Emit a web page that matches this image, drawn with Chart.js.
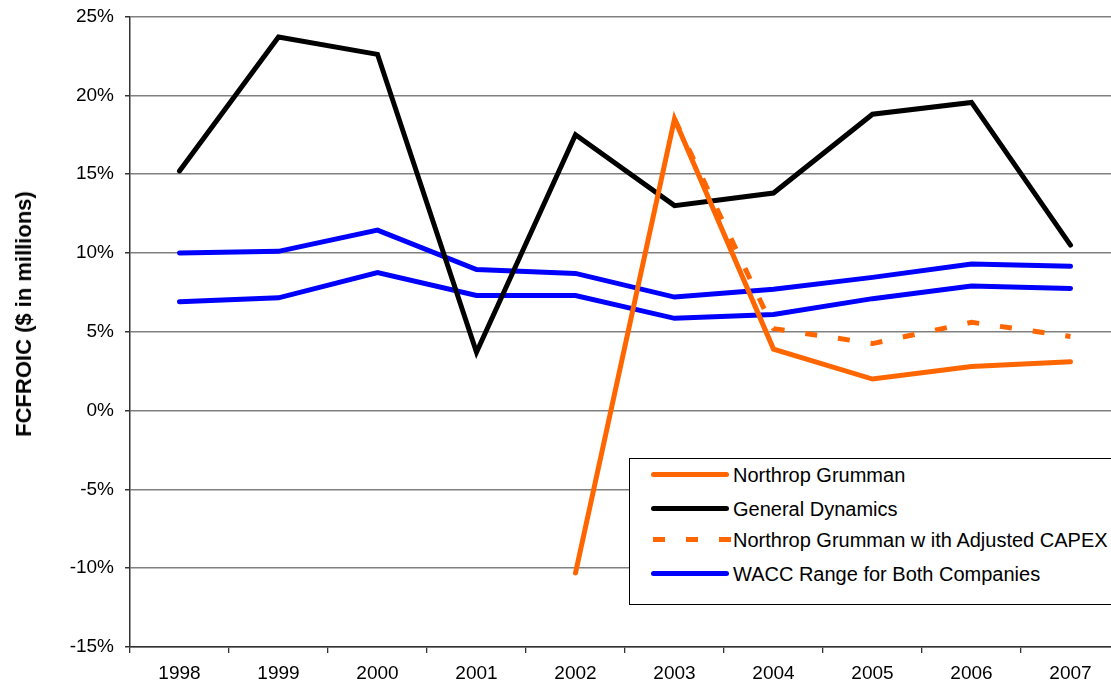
<!DOCTYPE html>
<html><head><meta charset="utf-8">
<script src="https://cdn.jsdelivr.net/npm/chart.js@4/dist/chart.umd.min.js"></script>
<style>
html,body{margin:0;padding:0;background:#fff;overflow:hidden;width:1111px;height:686px}
#wrap{position:relative;width:1122px;height:686px}
#legend{position:absolute;left:629px;top:458px;width:486px;height:147px;border:1.5px solid #000;background:#fff;box-sizing:border-box;font-family:"Liberation Sans",Arial,sans-serif;font-size:20px;color:#000}
.row{position:absolute;left:0;height:24px;width:100%}
.smp{position:absolute;left:21px;width:78px;height:5px;top:9px;border-radius:3px}
.txt{position:absolute;left:103px;top:0;line-height:24px;white-space:pre}
#ytitle{position:absolute;left:24px;top:314px;transform:translate(-50%,-50%) rotate(-90deg);font-family:"Liberation Sans",Arial,sans-serif;font-weight:bold;font-size:22px;white-space:nowrap;color:#000}
</style></head>
<body>
<div id="wrap">
<canvas id="c" width="1122" height="686"></canvas>
<div id="legend"></div>
<div id="ytitle"></div>
</div>
<script>
const years = ['1998','1999','2000','2001','2002','2003','2004','2005','2006','2007'];
const northrop = [null,null,null,null,-10.3,18.5,3.9,2.0,2.8,3.1];
const generalDynamics = [15.2,23.7,22.6,3.7,17.5,13.0,13.8,18.8,19.55,10.5];
const northropAdjusted = [null,null,null,null,null,18.5,5.2,4.25,5.6,4.7];
const waccHigh = [10.0,10.1,11.45,8.95,8.7,7.2,7.7,8.45,9.3,9.15];
const waccLow = [6.9,7.15,8.75,7.3,7.3,5.85,6.1,7.1,7.9,7.75];
const yTicks = [-15,-10,-5,0,5,10,15,20,25];
const yTitle = 'FCFROIC ($ in millions)';

const ORANGE = '#FF6600', BLUE = '#0000FF', BLACK = '#000000';
const FONT = '"Liberation Sans", Arial, sans-serif';

document.getElementById('ytitle').textContent = yTitle;

const legendItems = [
  {label:'Northrop Grumman', color:ORANGE, dash:false},
  {label:'General Dynamics', color:BLACK, dash:false},
  {label:'Northrop Grumman w ith Adjusted CAPEX', color:ORANGE, dash:true},
  {label:'WACC Range for Both Companies', color:BLUE, dash:false}
];
const legendTops = [4, 38, 69, 103];
const lg = document.getElementById('legend');
legendItems.forEach((it,i)=>{
  const r = document.createElement('div'); r.className='row'; r.style.top = legendTops[i]+'px';
  const s = document.createElement('div'); s.className='smp';
  if (it.dash) { s.style.background = 'repeating-linear-gradient(90deg,'+it.color+' 0 12px,transparent 12px 33px)'; s.style.borderRadius='0'; s.style.left='23px'; }
  else s.style.background = it.color;
  const t = document.createElement('div'); t.className='txt'; t.textContent = it.label;
  r.appendChild(s); r.appendChild(t); lg.appendChild(r);
});

const base = {fill:false, tension:0, pointRadius:0, borderWidth:5, borderJoinStyle:'miter', spanGaps:false};
new Chart(document.getElementById('c'), {
  type:'line',
  data:{labels:years, datasets:[
    Object.assign({label:'Northrop Grumman', data:northrop, borderColor:ORANGE, borderCapStyle:'round', order:0}, base),
    Object.assign({label:'Northrop Grumman w ith Adjusted CAPEX', data:northropAdjusted, borderColor:ORANGE, borderDash:[12,21], borderCapStyle:'butt', order:1}, base),
    Object.assign({label:'General Dynamics', data:generalDynamics, borderColor:BLACK, borderCapStyle:'round', order:2}, base),
    Object.assign({label:'WACC Range for Both Companies', data:waccHigh, borderColor:BLUE, borderCapStyle:'round', order:3}, base),
    Object.assign({label:'WACC low', data:waccLow, borderColor:BLUE, borderCapStyle:'round', order:4}, base)
  ]},
  options:{
    responsive:false, animation:false, devicePixelRatio:1,
    layout:{padding:{top:16.5,left:0,right:2,bottom:0}},
    plugins:{legend:{display:false}, tooltip:{enabled:false}},
    scales:{
      x:{offset:true,
        grid:{offset:true, drawOnChartArea:false, tickLength:6, color:'#333', tickColor:'#333', lineWidth:1.3},
        border:{color:'#333', width:1.5},
        ticks:{color:'#000', font:{family:FONT, size:19}, padding:9, maxRotation:0, autoSkip:false},
        afterFit:(s)=>{s.height=39;}
      },
      y:{min:-15, max:25,
        afterBuildTicks:(s)=>{s.ticks = yTicks.map(v=>({value:v}));},
        grid:{color:'#808080', lineWidth:1.5, tickLength:5, tickColor:'#333'},
        border:{color:'#333', width:1.5},
        ticks:{color:'#000', font:{family:FONT, size:19}, padding:11, callback:(v)=>v+'%'},
        afterFit:(s)=>{s.width=130; s.paddingTop=0; s.paddingBottom=0;}
      }
    }
  }
});
</script>
</body></html>
